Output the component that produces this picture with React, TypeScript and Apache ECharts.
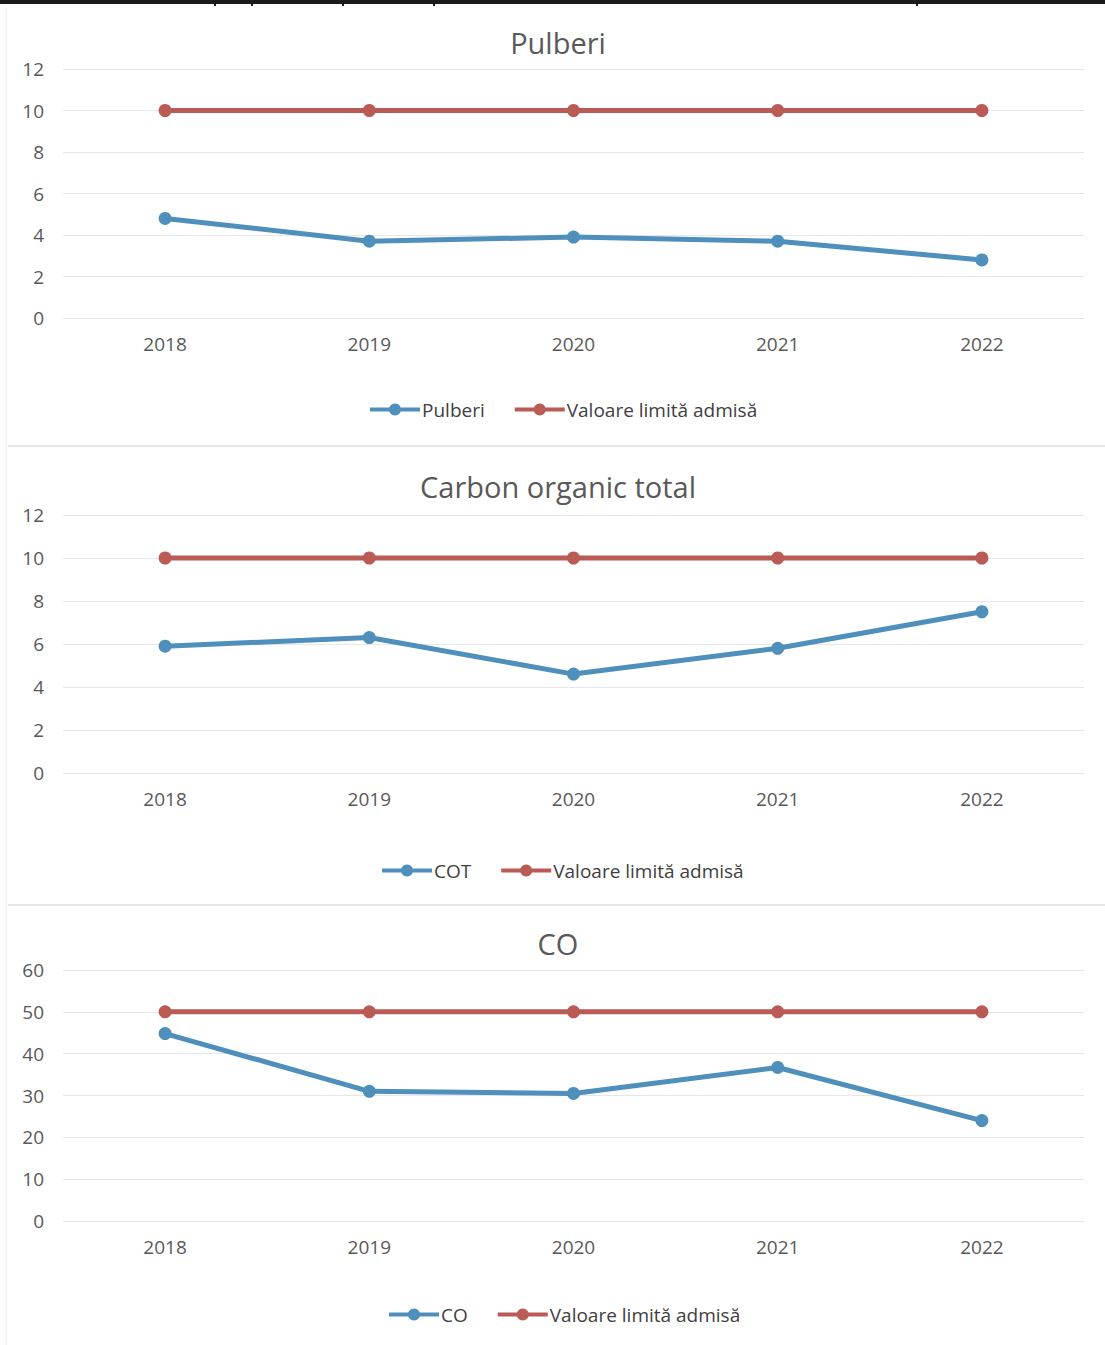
import React, { useEffect, useRef } from "react";
import * as echarts from "echarts";

const years = ["2018", "2019", "2020", "2021", "2022"];

const pulberi = [4.8, 3.7, 3.9, 3.7, 2.8];
const pulberiLimit = [10, 10, 10, 10, 10];

const cot = [5.9, 6.3, 4.6, 5.8, 7.5];
const cotLimit = [10, 10, 10, 10, 10];

const co = [44.8, 31, 30.5, 36.7, 24];
const coLimit = [50, 50, 50, 50, 50];

const titles = ["Pulberi", "Carbon organic total", "CO"];
const seriesNames = ["Pulberi", "COT", "CO"];
const limitName = "Valoare limită admisă";
const yMax = [12, 12, 60];
const yInterval = [2, 2, 10];

const BLUE = "#4f8fbc";
const RED = "#ba5b56";
const FONT = "Open Sans";

export default function App() {
  const ref = useRef<HTMLDivElement>(null);

  useEffect(() => {
    if (!ref.current) return;
    const chart = echarts.init(ref.current, undefined, { renderer: "svg" });

    const gridTops = [69, 515, 970];
    const gridHeights = [249, 258, 251];
    const titleTops = [23, 467, 924];
    const legendTops = [395, 856, 1300];
    const legendLefts = [363, 375, 382];
    const values = [pulberi, cot, co];
    const limits = [pulberiLimit, cotLimit, coLimit];

    const option: any = {
      animation: false,
      backgroundColor: "#ffffff",
      textStyle: { fontFamily: FONT },
      title: titles.map((t, i) => ({
        text: t,
        left: 553,
        textAlign: "center",
        top: titleTops[i],
        textStyle: { fontFamily: FONT, fontSize: 29, fontWeight: "normal", color: "#595959" },
      })),
      legend: seriesNames.map((n, i) => ({
        data: [n, limitName],
        top: legendTops[i],
        left: legendLefts[i],
        itemWidth: 50,
        itemHeight: 15,
        itemGap: 28,
        lineStyle: { width: 4 },
        textStyle: { fontFamily: FONT, fontSize: 19, color: "#404040", padding: [0, 0, 0, -3] },
      })),
      grid: gridTops.map((t, i) => ({
        left: 63,
        right: 21,
        top: t,
        height: gridHeights[i],
      })),
      xAxis: gridTops.map((_, i) => ({
        type: "category",
        gridIndex: i,
        data: years,
        boundaryGap: true,
        axisLine: { show: false },
        axisTick: { show: false },
        axisLabel: { fontFamily: FONT, fontSize: 19, color: "#595959", margin: 16 },
      })),
      yAxis: gridTops.map((_, i) => ({
        type: "value",
        gridIndex: i,
        min: 0,
        max: yMax[i],
        interval: yInterval[i],
        axisLine: { show: false },
        axisTick: { show: false },
        axisLabel: { fontFamily: FONT, fontSize: 19, color: "#595959", margin: 19 },
        splitLine: { lineStyle: { color: "#e6e6ec", width: 1 } },
      })),
      series: [] as any[],
      graphic: [
        { type: "rect", shape: { x: 0, y: 0, width: 1105, height: 4 }, style: { fill: "#1a1a1a" } },
        ...[215, 252, 343, 434, 917].map((x) => ({
          type: "line",
          shape: { x1: x, y1: 0, x2: x, y2: 6 },
          style: { stroke: "#1a1a1a", lineWidth: 2 },
        })),
        { type: "line", shape: { x1: 8, y1: 446, x2: 1105, y2: 446 }, style: { stroke: "#dcdce4", lineWidth: 1.5 } },
        { type: "line", shape: { x1: 8, y1: 905, x2: 1105, y2: 905 }, style: { stroke: "#dcdce4", lineWidth: 1.5 } },
        { type: "line", shape: { x1: 6, y1: 8, x2: 6, y2: 1345 }, style: { stroke: "#ececf0", lineWidth: 1 } },
      ],
    };

    for (let i = 0; i < 3; i++) {
      option.series.push({
        name: seriesNames[i],
        type: "line",
        xAxisIndex: i,
        yAxisIndex: i,
        data: values[i],
        symbol: "circle",
        symbolSize: 13,
        lineStyle: { color: BLUE, width: 5 },
        itemStyle: { color: BLUE },
      });
      option.series.push({
        name: limitName,
        type: "line",
        xAxisIndex: i,
        yAxisIndex: i,
        data: limits[i],
        symbol: "circle",
        symbolSize: 13,
        lineStyle: { color: RED, width: 5 },
        itemStyle: { color: RED },
      });
    }

    chart.setOption(option);
    return () => chart.dispose();
  }, []);

  return (
    <div
      ref={ref}
      style={{ position: "fixed", left: 0, top: 0, width: 1105, height: 1345, background: "#fff" }}
    />
  );
}
